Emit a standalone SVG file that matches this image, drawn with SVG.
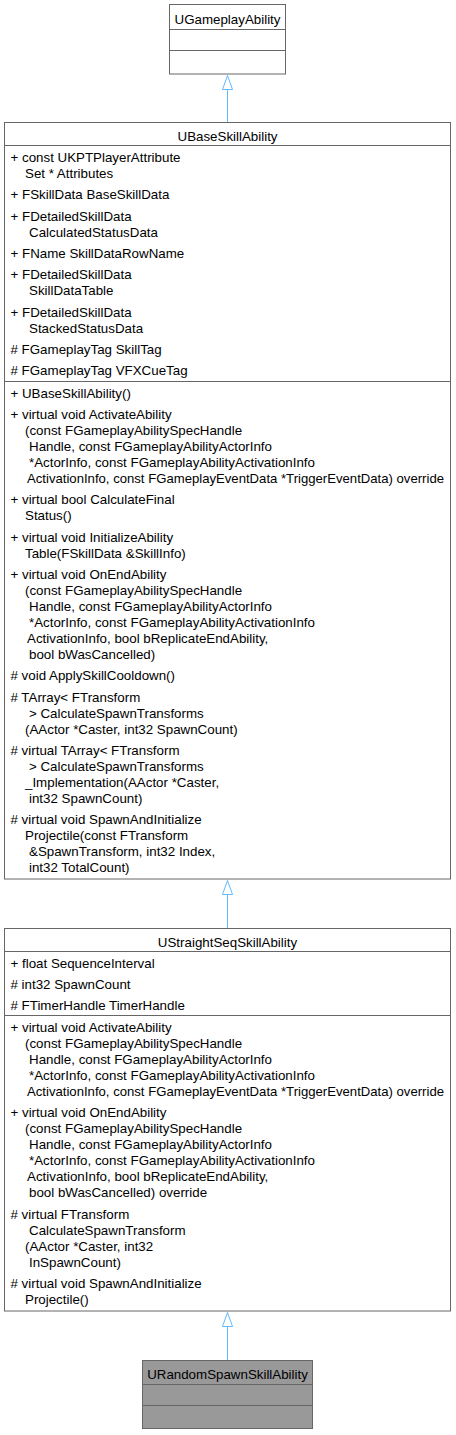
<svg xmlns="http://www.w3.org/2000/svg" width="456" height="1435" viewBox="0 0 456 1435">
<style>
.box{fill:#ffffff;stroke:#666666;stroke-width:1}
.cur{fill:#999999;stroke:#666666;stroke-width:1}
.sep{stroke:#666666;stroke-width:1;fill:none}
text{font-family:"Liberation Sans",Arial,sans-serif;font-size:13.33px;fill:#000000}
.t{text-anchor:middle}
.edge{stroke:#63b8ff;stroke-width:1;fill:none}
</style>
<defs>
<marker id="inh" markerUnits="userSpaceOnUse" viewBox="-1 -1 16 12" refX="14" refY="5" markerWidth="16" markerHeight="12" orient="auto">
<path d="M0,0 L14,5 L0,10 Z" fill="#ffffff" stroke="#63b8ff" stroke-width="1"/>
</marker>
</defs>
<g id="connectors">
<line class="edge" x1="227.5" y1="122" x2="227.5" y2="75.5" marker-end="url(#inh)"/>
<line class="edge" x1="227.5" y1="928" x2="227.5" y2="880.5" marker-end="url(#inh)"/>
<line class="edge" x1="227.5" y1="1360" x2="227.5" y2="1312.5" marker-end="url(#inh)"/>
</g>
<g id="UGameplayAbility">
<rect class="box" x="169.5" y="4.5" width="116" height="69.5"/>
<line class="sep" x1="169.5" y1="29.5" x2="285.5" y2="29.5"/>
<line class="sep" x1="169.5" y1="50.5" x2="285.5" y2="50.5"/>
<text class="t" x="227.5" y="24">UGameplayAbility</text>
</g>
<g id="UBaseSkillAbility">
<rect class="box" x="4.5" y="122.5" width="446" height="756.5"/>
<line class="sep" x1="4.5" y1="145.5" x2="450.5" y2="145.5"/>
<line class="sep" x1="4.5" y1="381.5" x2="450.5" y2="381.5"/>
<text class="t" x="227.5" y="140.5">UBaseSkillAbility</text>
<text x="10.5" y="162">+ const UKPTPlayerAttribute</text>
<text x="25" y="178">Set * Attributes</text>
<text x="10.5" y="199.3">+ FSkillData BaseSkillData</text>
<text x="10.5" y="220.6">+ FDetailedSkillData</text>
<text x="29" y="236.6">CalculatedStatusData</text>
<text x="10.5" y="258">+ FName SkillDataRowName</text>
<text x="10.5" y="279.3">+ FDetailedSkillData</text>
<text x="29" y="295.3">SkillDataTable</text>
<text x="10.5" y="316.6">+ FDetailedSkillData</text>
<text x="29" y="332.6">StackedStatusData</text>
<text x="10.5" y="354"># FGameplayTag SkillTag</text>
<text x="10.5" y="375.3"># FGameplayTag VFXCueTag</text>
<text x="10.5" y="397.7">+ UBaseSkillAbility()</text>
<text x="10.5" y="419">+ virtual void ActivateAbility</text>
<text x="25" y="435">(const FGameplayAbilitySpecHandle</text>
<text x="29" y="451">Handle, const FGameplayAbilityActorInfo</text>
<text x="29" y="467">*ActorInfo, const FGameplayAbilityActivationInfo</text>
<text x="27" y="483" textLength="417" lengthAdjust="spacingAndGlyphs">ActivationInfo, const FGameplayEventData *TriggerEventData) override</text>
<text x="10.5" y="504.3">+ virtual bool CalculateFinal</text>
<text x="25" y="520.3">Status()</text>
<text x="10.5" y="541.7">+ virtual void InitializeAbility</text>
<text x="25" y="557.7">Table(FSkillData &amp;SkillInfo)</text>
<text x="10.5" y="579">+ virtual void OnEndAbility</text>
<text x="25" y="595">(const FGameplayAbilitySpecHandle</text>
<text x="29" y="611">Handle, const FGameplayAbilityActorInfo</text>
<text x="29" y="627">*ActorInfo, const FGameplayAbilityActivationInfo</text>
<text x="27" y="643">ActivationInfo, bool bReplicateEndAbility,</text>
<text x="29" y="659">bool bWasCancelled)</text>
<text x="10.5" y="680.3"># void ApplySkillCooldown()</text>
<text x="10.5" y="701.7"># TArray&lt; FTransform</text>
<text x="29" y="717.7">&gt; CalculateSpawnTransforms</text>
<text x="25" y="733.7">(AActor *Caster, int32 SpawnCount)</text>
<text x="10.5" y="755"># virtual TArray&lt; FTransform</text>
<text x="29" y="771">&gt; CalculateSpawnTransforms</text>
<text x="25" y="787">_Implementation(AActor *Caster,</text>
<text x="29" y="803">int32 SpawnCount)</text>
<text x="10.5" y="824.3"># virtual void SpawnAndInitialize</text>
<text x="25" y="840.3">Projectile(const FTransform</text>
<text x="29" y="856.3">&amp;SpawnTransform, int32 Index,</text>
<text x="29" y="872.3">int32 TotalCount)</text>
</g>
<g id="UStraightSeqSkillAbility">
<rect class="box" x="4.5" y="928.5" width="446" height="382.5"/>
<line class="sep" x1="4.5" y1="951.5" x2="450.5" y2="951.5"/>
<line class="sep" x1="4.5" y1="1015.5" x2="450.5" y2="1015.5"/>
<text class="t" x="227.5" y="946.5">UStraightSeqSkillAbility</text>
<text x="10.5" y="967.5">+ float SequenceInterval</text>
<text x="10.5" y="988.8"># int32 SpawnCount</text>
<text x="10.5" y="1010.2"># FTimerHandle TimerHandle</text>
<text x="10.5" y="1032">+ virtual void ActivateAbility</text>
<text x="25" y="1048">(const FGameplayAbilitySpecHandle</text>
<text x="29" y="1064">Handle, const FGameplayAbilityActorInfo</text>
<text x="29" y="1080">*ActorInfo, const FGameplayAbilityActivationInfo</text>
<text x="27" y="1096" textLength="417" lengthAdjust="spacingAndGlyphs">ActivationInfo, const FGameplayEventData *TriggerEventData) override</text>
<text x="10.5" y="1117.3">+ virtual void OnEndAbility</text>
<text x="25" y="1133.3">(const FGameplayAbilitySpecHandle</text>
<text x="29" y="1149.3">Handle, const FGameplayAbilityActorInfo</text>
<text x="29" y="1165.3">*ActorInfo, const FGameplayAbilityActivationInfo</text>
<text x="27" y="1181.3">ActivationInfo, bool bReplicateEndAbility,</text>
<text x="29" y="1197.3">bool bWasCancelled) override</text>
<text x="10.5" y="1218.7"># virtual FTransform</text>
<text x="29" y="1234.7">CalculateSpawnTransform</text>
<text x="25" y="1250.7">(AActor *Caster, int32</text>
<text x="29" y="1266.7">InSpawnCount)</text>
<text x="10.5" y="1288"># virtual void SpawnAndInitialize</text>
<text x="25" y="1304">Projectile()</text>
</g>
<g id="URandomSpawnSkillAbility">
<rect class="cur" x="142.5" y="1360.5" width="170" height="68"/>
<line class="sep" x1="142.5" y1="1384.5" x2="312.5" y2="1384.5"/>
<line class="sep" x1="142.5" y1="1405.5" x2="312.5" y2="1405.5"/>
<text class="t" x="227.5" y="1379">URandomSpawnSkillAbility</text>
</g>
</svg>
